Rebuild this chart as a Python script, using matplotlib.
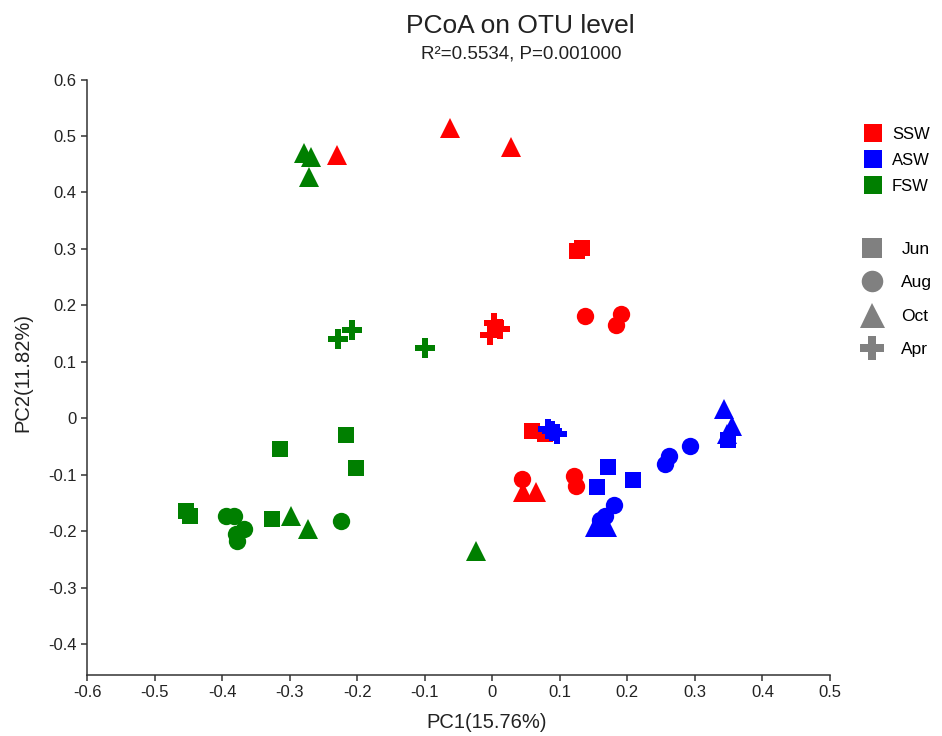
import matplotlib
matplotlib.use('Agg')
import matplotlib.pyplot as plt
from matplotlib.lines import Line2D

plt.rcParams['font.family'] = ['Liberation Sans', 'DejaVu Sans']

sites = ['SSW', 'ASW', 'FSW']
months = ['Jun', 'Aug', 'Oct', 'Apr']
site_colors = {'SSW': '#ff0000', 'ASW': '#0000ff', 'FSW': '#007f00'}
month_markers = {'Jun': 's', 'Aug': 'o', 'Oct': '^', 'Apr': 'P'}
marker_sizes = {'Jun': 11, 'Aug': 12.5, 'Oct': 15, 'Apr': 14}

# PC1 / PC2 coordinates per site and month
ssw_jun_x = [0.125, 0.133, 0.059, 0.078]
ssw_jun_y = [0.296, 0.302, -0.022, -0.028]
ssw_aug_x = [0.137, 0.191, 0.183, 0.044, 0.121, 0.124]
ssw_aug_y = [0.181, 0.184, 0.166, -0.107, -0.102, -0.120]
ssw_oct_x = [-0.230, -0.062, 0.027, 0.046, 0.064]
ssw_oct_y = [0.466, 0.514, 0.480, -0.131, -0.131]
ssw_apr_x = [0.003, 0.012, -0.003]
ssw_apr_y = [0.169, 0.158, 0.148]

asw_jun_x = [0.172, 0.155, 0.209, 0.349]
asw_jun_y = [-0.087, -0.122, -0.109, -0.038]
asw_aug_x = [0.180, 0.167, 0.160, 0.262, 0.255, 0.293]
asw_aug_y = [-0.154, -0.173, -0.181, -0.067, -0.081, -0.050]
asw_oct_x = [0.152, 0.170, 0.343, 0.355, 0.348]
asw_oct_y = [-0.193, -0.193, 0.016, -0.014, -0.028]
asw_apr_x = [0.083, 0.096, 0.089]
asw_apr_y = [-0.019, -0.028, -0.023]

fsw_jun_x = [-0.454, -0.447, -0.315, -0.217, -0.202, -0.326]
fsw_jun_y = [-0.164, -0.173, -0.055, -0.030, -0.089, -0.178]
fsw_aug_x = [-0.395, -0.383, -0.368, -0.380, -0.378, -0.224]
fsw_aug_y = [-0.173, -0.173, -0.196, -0.205, -0.217, -0.183]
fsw_oct_x = [-0.279, -0.269, -0.272, -0.298, -0.273, -0.024]
fsw_oct_y = [0.469, 0.462, 0.428, -0.173, -0.196, -0.236]
fsw_apr_x = [-0.228, -0.207, -0.099]
fsw_apr_y = [0.141, 0.157, 0.124]

points = {
	'SSW': {'Jun': (ssw_jun_x, ssw_jun_y), 'Aug': (ssw_aug_x, ssw_aug_y),
			'Oct': (ssw_oct_x, ssw_oct_y), 'Apr': (ssw_apr_x, ssw_apr_y)},
	'ASW': {'Jun': (asw_jun_x, asw_jun_y), 'Aug': (asw_aug_x, asw_aug_y),
			'Oct': (asw_oct_x, asw_oct_y), 'Apr': (asw_apr_x, asw_apr_y)},
	'FSW': {'Jun': (fsw_jun_x, fsw_jun_y), 'Aug': (fsw_aug_x, fsw_aug_y),
			'Oct': (fsw_oct_x, fsw_oct_y), 'Apr': (fsw_apr_x, fsw_apr_y)},
}

x_ticks = [-0.6, -0.5, -0.4, -0.3, -0.2, -0.1, 0, 0.1, 0.2, 0.3, 0.4, 0.5]
y_ticks = [-0.4, -0.3, -0.2, -0.1, 0, 0.1, 0.2, 0.3, 0.4, 0.5, 0.6]

fig = plt.figure(figsize=(9.42, 7.36), dpi=100)
ax = fig.add_axes([0.0924, 0.0829, 0.7887, 0.8090])

for site in sites:
	for month in months:
		xs, ys = points[site][month]
		ax.plot(xs, ys, linestyle='none', marker=month_markers[month],
				markersize=marker_sizes[month], color=site_colors[site],
				markeredgewidth=0)

ax.set_xlim(-0.6, 0.5)
ax.set_ylim(-0.455, 0.6)
ax.set_xticks(x_ticks)
ax.set_xticklabels(['0' if t == 0 else '%g' % t for t in x_ticks])
ax.set_yticks(y_ticks)
ax.set_yticklabels(['0' if t == 0 else '%g' % t for t in y_ticks])
for side in ['top', 'right']:
	ax.spines[side].set_visible(False)
for side in ['left', 'bottom']:
	ax.spines[side].set_linewidth(1.1)
	ax.spines[side].set_color('#333333')
ax.tick_params(direction='out', length=4, width=1.1, color='#333333',
			   labelsize=12, labelcolor='#222222', pad=3.5)

fig.text(0.552, 0.964, 'PCoA on OTU level', ha='center', va='center',
		 fontsize=19, color='#222222')
fig.text(0.553, 0.926, 'R\u00b2=0.5534, P=0.001000', ha='center', va='center',
		 fontsize=13.5, color='#222222')
fig.text(0.517, 0.019, 'PC1(15.76%)', ha='center', va='center',
		 fontsize=14.5, color='#222222')
fig.text(0.024, 0.494, 'PC2(11.82%)', ha='center', va='center',
		 rotation=90, fontsize=14.5, color='#222222')

site_handles = [Line2D([], [], linestyle='none', marker='s', markersize=12.5,
					   color=site_colors[s], markeredgewidth=0) for s in sites]
leg1 = fig.legend(site_handles, sites, loc='upper left',
				  bbox_to_anchor=(0.909, 0.837), frameon=False, fontsize=12,
				  handletextpad=0.55, labelspacing=0.68, borderaxespad=0,
				  handlelength=1.2)
month_handles = [Line2D([], [], linestyle='none', marker=month_markers[m],
						markersize=marker_sizes[m] + 3, color='#808080',
						markeredgewidth=0) for m in months]
leg2 = fig.legend(month_handles, months, loc='upper left',
				  bbox_to_anchor=(0.907, 0.681), frameon=False, fontsize=12.5,
				  handletextpad=1.1, labelspacing=1.05, borderaxespad=0,
				  handlelength=1.2)

fig.savefig('out.png', dpi=100)
